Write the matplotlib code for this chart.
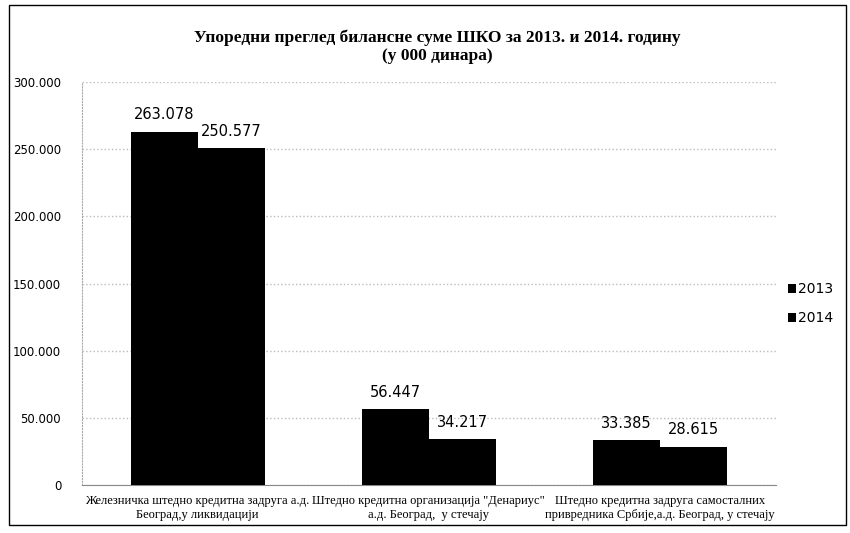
import matplotlib
matplotlib.use("Agg")
import matplotlib.pyplot as plt
import numpy as np
from matplotlib.patches import Rectangle

categories = [
    "Железничка штедно кредитна задруга а.д.\nБеоград,у ликвидацији",
    "Штедно кредитна организација \"Денариус\"\nа.д. Београд,  у стечају",
    "Штедно кредитна задруга самосталних\nпривредника Србије,а.д. Београд, у стечају",
]
series_names = ["2013", "2014"]
values_2013 = [263078, 56447, 33385]
values_2014 = [250577, 34217, 28615]
yticks = [0, 50000, 100000, 150000, 200000, 250000, 300000]

def fmt(v):
    return f"{v:,}".replace(",", ".")

fig = plt.figure(figsize=(8.5, 5.33), dpi=100)
ax = fig.add_axes([0.0965, 0.09, 0.816, 0.756])

x = np.arange(len(categories))
w = 0.29
b1 = ax.bar(x - w / 2, values_2013, w, color="black", label=series_names[0], zorder=3)
b2 = ax.bar(x + w / 2, values_2014, w, color="black", label=series_names[1], zorder=3)

for bars, vals in ((b1, values_2013), (b2, values_2014)):
    for r, v in zip(bars, vals):
        ax.text(r.get_x() + r.get_width() / 2, v + 7000, fmt(v), ha="center",
                va="bottom", fontsize=10.5, family="DejaVu Sans")

ax.set_xlim(-0.5, 2.5)
ax.set_ylim(0, 300000)
ax.set_yticks(yticks)
ax.set_yticklabels([fmt(v) for v in yticks], fontsize=8.5)
ax.set_xticks(x)
ax.set_xticklabels(categories, fontsize=9, family="Liberation Serif", linespacing=1.3)
ax.tick_params(axis="x", length=0, pad=7)
ax.tick_params(axis="y", length=0, pad=15)
ax.grid(axis="y", color="#bbbbbb", linestyle=":", linewidth=1.0, zorder=0)
for s in ["top", "right"]:
    ax.spines[s].set_visible(False)
ax.spines["left"].set_color("#aaaaaa")
ax.spines["left"].set_linestyle(":")
ax.spines["bottom"].set_color("#888888")

fig.text(0.515, 0.945, "Упоредни преглед билансне суме ШКО за 2013. и 2014. годину\n(у 000 динара)",
         ha="center", va="top", fontsize=12.5, fontweight="bold", family="Liberation Serif",
         linespacing=1.15)

ax.legend(loc="center left", bbox_to_anchor=(1.0, 0.45), frameon=False, fontsize=10,
          handlelength=0.6, handleheight=0.6, handletextpad=0.1, labelspacing=1.1)

fig.patches.append(Rectangle((0.01, 0.015), 0.985, 0.975, transform=fig.transFigure,
                             fill=False, edgecolor="black", linewidth=1.0))

fig.savefig("out.png", dpi=100)
